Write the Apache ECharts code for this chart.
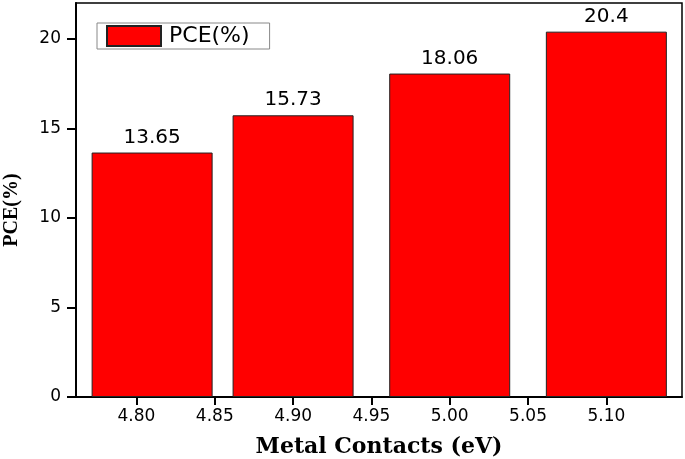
<!DOCTYPE html>
<html>
<head>
<meta charset="utf-8">
<script src="https://cdn.jsdelivr.net/npm/echarts@6/dist/echarts.min.js"></script>
<style>
  html, body { margin: 0; padding: 0; background: #fff; }
  #chart { width: 685px; height: 459px; }
</style>
</head>
<body>
<div id="chart"></div>
<script>
// metal contact work function (eV) and PCE (%)
const contacts = [4.81, 4.90, 5.00, 5.10];
const pce = [13.65, 15.73, 18.06, 20.4];
const pceLabels = ['13.65', '15.73', '18.06', '20.4'];
const xTicks = [4.80, 4.85, 4.90, 4.95, 5.00, 5.05, 5.10];

const chart = echarts.init(document.getElementById('chart'));

const option = {
  animation: false,
  grid: {
    left: 76,
    top: 3,
    right: 3,
    bottom: 62,
    outerBoundsMode: 'none',
    show: true,
    borderColor: '#000',
    borderWidth: 1.5,
  },
  legend: {
    left: 97,
    top: 23,
    data: ['PCE(%)'],
    icon: 'rect',
    itemWidth: 54,
    itemHeight: 20,
    padding: [2, 20, 2, 9],
    borderColor: '#888',
    borderWidth: 1,
    textStyle: {
      fontFamily: 'DejaVu Sans',
      fontSize: 22,
      color: '#000',
      padding: [0, 0, 0, 3],
    },
  },
  xAxis: {
    type: 'value',
    min: 4.7614,
    max: 5.1483,
    name: 'Metal Contacts (eV)',
    nameLocation: 'middle',
    nameGap: 39,
    nameTextStyle: {
      fontFamily: 'DejaVu Serif',
      fontWeight: 'bold',
      fontSize: 22,
      color: '#000',
    },
    splitLine: { show: false },
    axisLine: { show: true, onZero: false, lineStyle: { color: '#000', width: 2 } },
    axisTick: {
      show: true,
      customValues: xTicks,
      length: 8,
      lineStyle: { color: '#000', width: 2 },
    },
    axisLabel: {
      customValues: xTicks,
      formatter: (v) => v.toFixed(2),
      fontFamily: 'DejaVu Sans',
      fontSize: 17,
      color: '#000',
      margin: 11,
    },
  },
  yAxis: {
    type: 'value',
    min: 0,
    max: 22,
    interval: 5,
    name: 'PCE(%)',
    nameLocation: 'middle',
    nameGap: 54,
    nameTextStyle: {
      fontFamily: 'Liberation Serif',
      fontWeight: 'bold',
      fontSize: 20,
      color: '#000',
      padding: [0, 20, 0, 0],
    },
    splitLine: { show: false },
    axisLine: { show: true, lineStyle: { color: '#000', width: 2 } },
    axisTick: {
      show: true,
      length: 9,
      lineStyle: { color: '#000', width: 2 },
    },
    axisLabel: {
      showMaxLabel: false,
      fontFamily: 'DejaVu Sans',
      fontSize: 17,
      color: '#000',
      margin: 15,
    },
  },
  series: [
    {
      name: 'PCE(%)',
      type: 'bar',
      barWidth: 121,
      data: contacts.map((c, i) => [c, pce[i]]),
      itemStyle: {
        color: '#ff0000',
        borderColor: '#222',
        borderWidth: 1,
      },
      label: {
        show: true,
        position: 'top',
        distance: 5,
        formatter: (p) => pceLabels[p.dataIndex],
        fontFamily: 'DejaVu Sans',
        fontSize: 20,
        color: '#000',
      },
    },
  ],
};

chart.setOption(option);
</script>
</body>
</html>
